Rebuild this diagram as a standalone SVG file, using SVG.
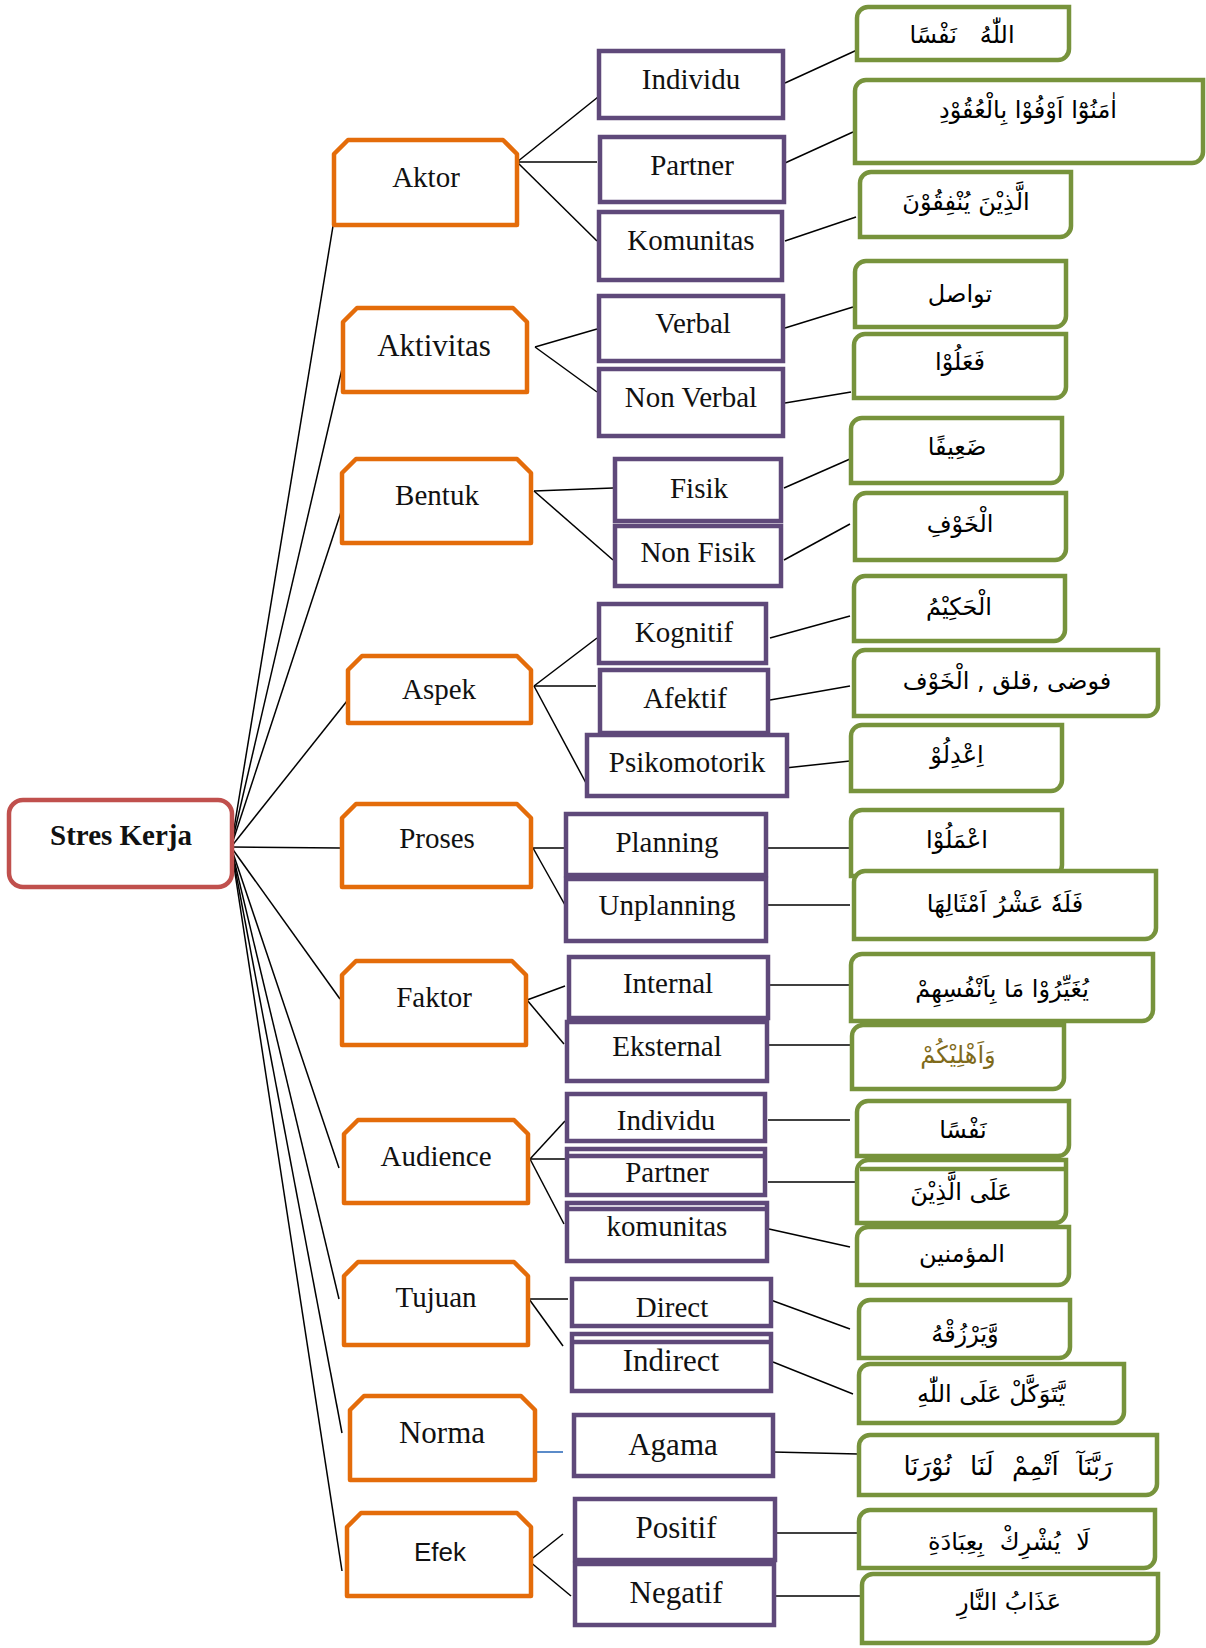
<svg xmlns="http://www.w3.org/2000/svg" width="1206" height="1648" viewBox="0 0 1206 1648">
  <style>
    .root { fill: #fff; stroke: #C0504D; stroke-width: 4.5; }
    .o { fill: #fff; stroke: #E46C0A; stroke-width: 4.5; stroke-linejoin: round; }
    .p { fill: #fff; stroke: #5F497A; stroke-width: 4.5; }
    .pl { stroke: #5F497A; stroke-width: 4.5; }
    .g { fill: #fff; stroke: #77933C; stroke-width: 4.5; }
    .gl { stroke: #77933C; stroke-width: 4.5; }
    .t { font-family: 'Liberation Serif', 'Times New Roman', serif; font-size: 29px; fill: #111; text-anchor: middle; }
    .tb { font-weight: bold; }
    .big { font-size: 31px; }
    .sans { font-family: 'Liberation Sans', Arial, sans-serif; font-size: 26px; }
    .ar { font-family: 'DejaVu Sans', sans-serif; font-size: 24px; fill: #000; text-anchor: middle; direction: rtl; }
    #connectors line { stroke: #000; stroke-width: 1.5; }
    #connectors line.blue { stroke: #5B8BC9; stroke-width: 2; }
  </style>

  <rect width="1206" height="1648" fill="#fff"/>

  <!-- links between the levels -->
  <g id="connectors">
    <!-- root to first level -->
    <line x1="231" y1="847" x2="333" y2="226"/>
    <line x1="231" y1="847" x2="342" y2="369"/>
    <line x1="231" y1="847" x2="342" y2="509"/>
    <line x1="231" y1="847" x2="347" y2="701"/>
    <line x1="231" y1="847" x2="340" y2="848"/>
    <line x1="231" y1="847" x2="340" y2="999"/>
    <line x1="231" y1="847" x2="339" y2="1168"/>
    <line x1="231" y1="847" x2="339" y2="1299"/>
    <line x1="231" y1="847" x2="342" y2="1433"/>
    <line x1="231" y1="847" x2="342" y2="1571"/>
    <!-- Aktor -->
    <line x1="517" y1="162" x2="598" y2="97"/>
    <line x1="517" y1="162" x2="597" y2="162"/>
    <line x1="517" y1="162" x2="597" y2="241"/>
    <line x1="785" y1="83" x2="857" y2="50"/>
    <line x1="785" y1="163" x2="853" y2="132"/>
    <line x1="785" y1="241" x2="856" y2="217"/>
    <!-- Aktivitas -->
    <line x1="535" y1="347" x2="597" y2="329"/>
    <line x1="535" y1="347" x2="597" y2="392"/>
    <line x1="785" y1="328" x2="853" y2="307"/>
    <line x1="785" y1="403" x2="851" y2="392"/>
    <!-- Bentuk -->
    <line x1="534" y1="491" x2="613" y2="488"/>
    <line x1="534" y1="491" x2="613" y2="560"/>
    <line x1="784" y1="488" x2="850" y2="459"/>
    <line x1="784" y1="560" x2="850" y2="524"/>
    <!-- Aspek -->
    <line x1="534" y1="686" x2="597" y2="638"/>
    <line x1="534" y1="686" x2="596" y2="686"/>
    <line x1="534" y1="686" x2="586" y2="783"/>
    <line x1="770" y1="638" x2="850" y2="616"/>
    <line x1="770" y1="700" x2="850" y2="686"/>
    <line x1="785" y1="768" x2="850" y2="761"/>
    <!-- Proses -->
    <line x1="533" y1="848" x2="566" y2="848"/>
    <line x1="533" y1="848" x2="565" y2="905"/>
    <line x1="768" y1="848" x2="850" y2="848"/>
    <line x1="768" y1="905" x2="850" y2="905"/>
    <!-- Faktor -->
    <line x1="527" y1="1000" x2="565" y2="986"/>
    <line x1="527" y1="1000" x2="564" y2="1044"/>
    <line x1="768" y1="985" x2="850" y2="985"/>
    <line x1="768" y1="1045" x2="853" y2="1045"/>
    <!-- Audience -->
    <line x1="530" y1="1159" x2="565" y2="1121"/>
    <line x1="530" y1="1159" x2="565" y2="1159"/>
    <line x1="530" y1="1159" x2="564" y2="1224"/>
    <line x1="768" y1="1120" x2="850" y2="1120"/>
    <line x1="768" y1="1182" x2="858" y2="1182"/>
    <line x1="769" y1="1229" x2="850" y2="1247"/>
    <!-- Tujuan -->
    <line x1="529" y1="1299" x2="568" y2="1299"/>
    <line x1="529" y1="1299" x2="563" y2="1346"/>
    <line x1="768" y1="1299" x2="850" y2="1329"/>
    <line x1="773" y1="1362" x2="853" y2="1394"/>
    <!-- Norma -->
    <line class="blue" x1="534" y1="1452" x2="563" y2="1452"/>
    <line x1="773" y1="1452" x2="858" y2="1454"/>
    <!-- Efek -->
    <line x1="529" y1="1561" x2="563" y2="1534"/>
    <line x1="529" y1="1561" x2="571" y2="1596"/>
    <line x1="776" y1="1533" x2="860" y2="1533"/>
    <line x1="776" y1="1596" x2="860" y2="1596"/>
  </g>

  <!-- root -->
  <g id="n-stres-kerja">
    <rect class="root" x="9" y="800" width="223" height="87" rx="14"/>
    <text class="t tb" x="121" y="845">Stres Kerja</text>
  </g>

  <!-- first level -->
  <g id="n-aktor"><path class="o" d="M334,225 V154 L348,140 H503 L517,154 V225 Z"/><text class="t" x="426" y="187">Aktor</text></g>
  <g id="n-aktivitas"><path class="o" d="M343,392 V322 L357,308 H513 L527,322 V392 Z"/><text class="t big" x="434" y="356">Aktivitas</text></g>
  <g id="n-bentuk"><path class="o" d="M342,543 V473 L356,459 H517 L531,473 V543 Z"/><text class="t" x="437" y="505">Bentuk</text></g>
  <g id="n-aspek"><path class="o" d="M348,723 V670 L362,656 H517 L531,670 V723 Z"/><text class="t" x="439" y="699">Aspek</text></g>
  <g id="n-proses"><path class="o" d="M342,887 V818 L356,804 H517 L531,818 V887 Z"/><text class="t" x="437" y="848">Proses</text></g>
  <g id="n-faktor"><path class="o" d="M342,1045 V975 L356,961 H512 L526,975 V1045 Z"/><text class="t" x="434" y="1007">Faktor</text></g>
  <g id="n-audience"><path class="o" d="M344,1203 V1134 L358,1120 H514 L528,1134 V1203 Z"/><text class="t" x="436" y="1166">Audience</text></g>
  <g id="n-tujuan"><path class="o" d="M344,1345 V1276 L358,1262 H514 L528,1276 V1345 Z"/><text class="t" x="436" y="1307">Tujuan</text></g>
  <g id="n-norma"><path class="o" d="M350,1480 V1410 L364,1396 H521 L535,1410 V1480 Z"/><text class="t big" x="442" y="1443">Norma</text></g>
  <g id="n-efek"><path class="o" d="M347,1596 V1527 L361,1513 H517 L531,1527 V1596 Z"/><text class="t sans" x="440" y="1561">Efek</text></g>

  <!-- second level -->
  <g id="n-individu-1"><rect class="p" x="599" y="51" width="184" height="67"/><text class="t" x="691" y="89">Individu</text></g>
  <g id="n-partner-1"><rect class="p" x="600" y="137" width="184" height="65"/><text class="t" x="692" y="175">Partner</text></g>
  <g id="n-komunitas-1"><rect class="p" x="599" y="212" width="183" height="68"/><text class="t" x="691" y="250">Komunitas</text></g>
  <g id="n-verbal"><rect class="p" x="599" y="296" width="184" height="65"/><text class="t" x="693" y="333">Verbal</text></g>
  <g id="n-non-verbal"><rect class="p" x="599" y="369" width="184" height="67"/><text class="t" x="691" y="407">Non Verbal</text></g>
  <g id="n-fisik"><rect class="p" x="615" y="459" width="166" height="62"/><text class="t" x="699" y="498">Fisik</text></g>
  <g id="n-non-fisik"><rect class="p" x="615" y="526" width="166" height="60"/><text class="t" x="698" y="562">Non Fisik</text></g>
  <g id="n-kognitif"><rect class="p" x="599" y="604" width="167" height="59"/><text class="t" x="684" y="642">Kognitif</text></g>
  <g id="n-afektif"><rect class="p" x="600" y="670" width="168" height="63"/><text class="t" x="685" y="708">Afektif</text></g>
  <g id="n-psikomotorik"><rect class="p" x="587" y="735" width="200" height="61"/><text class="t" x="687" y="772">Psikomotorik</text></g>
  <g id="n-planning"><rect class="p" x="566" y="814" width="200" height="61"/><text class="t" x="667" y="852">Planning</text></g>
  <g id="n-unplanning"><rect class="p" x="566" y="879" width="200" height="62"/><text class="t" x="667" y="915">Unplanning</text></g>
  <g id="n-internal"><rect class="p" x="569" y="957" width="199" height="61"/><text class="t" x="668" y="993">Internal</text></g>
  <g id="n-eksternal"><rect class="p" x="567" y="1022" width="200" height="59"/><text class="t" x="667" y="1056">Eksternal</text></g>
  <g id="n-individu-2"><rect class="p" x="567" y="1094" width="198" height="47"/><text class="t" x="666" y="1130">Individu</text></g>
  <g id="n-partner-2"><rect class="p" x="567" y="1149" width="198" height="46"/><line class="pl" x1="567" y1="1156" x2="765" y2="1156"/><text class="t" x="667" y="1182">Partner</text></g>
  <g id="n-komunitas-2"><rect class="p" x="567" y="1203" width="200" height="58"/><line class="pl" x1="567" y1="1209" x2="767" y2="1209"/><text class="t" x="667" y="1236">komunitas</text></g>
  <g id="n-direct"><rect class="p" x="572" y="1279" width="199" height="47"/><text class="t" x="672" y="1317">Direct</text></g>
  <g id="n-indirect"><rect class="p" x="572" y="1334" width="199" height="57"/><line class="pl" x1="572" y1="1342" x2="771" y2="1342"/><text class="t big" x="671" y="1371">Indirect</text></g>
  <g id="n-agama"><rect class="p" x="574" y="1415" width="199" height="61"/><text class="t big" x="673" y="1455">Agama</text></g>
  <g id="n-positif"><rect class="p" x="575" y="1499" width="200" height="61"/><text class="t big" x="676" y="1538">Positif</text></g>
  <g id="n-negatif"><rect class="p" x="575" y="1564" width="199" height="61"/><text class="t big" x="676" y="1603">Negatif</text></g>

  <!-- third level: Arabic terms -->
  <g id="n-ar-1"><path class="g" d="M868,7 H1069 V49 A11,11 0 0 1 1058,60 H857 V18 A11,11 0 0 1 868,7 Z"/><text class="ar" x="962" y="43" xml:space="preserve">اللّٰهُ   نَفْسًا</text></g>
  <g id="n-ar-2"><path class="g" d="M866,80 H1203 V152 A11,11 0 0 1 1192,163 H855 V91 A11,11 0 0 1 866,80 Z"/><text class="ar" x="1028" y="118">اٰمَنُوْٓا اَوْفُوْا بِالْعُقُوْدِ</text></g>
  <g id="n-ar-3"><path class="g" d="M871,172 H1071 V226 A11,11 0 0 1 1060,237 H860 V183 A11,11 0 0 1 871,172 Z"/><text class="ar" x="966" y="210">الَّذِيْنَ يُنْفِقُوْنَ</text></g>
  <g id="n-ar-4"><path class="g" d="M866,261 H1066 V316 A11,11 0 0 1 1055,327 H855 V272 A11,11 0 0 1 866,261 Z"/><text class="ar" x="960" y="302">تواصل</text></g>
  <g id="n-ar-5"><path class="g" d="M865,334 H1066 V387 A11,11 0 0 1 1055,398 H854 V345 A11,11 0 0 1 865,334 Z"/><text class="ar" x="960" y="370">فَعَلُوْا</text></g>
  <g id="n-ar-6"><path class="g" d="M862,418 H1062 V472 A11,11 0 0 1 1051,483 H851 V429 A11,11 0 0 1 862,418 Z"/><text class="ar" x="957" y="455">ضَعِيفًا</text></g>
  <g id="n-ar-7"><path class="g" d="M866,493 H1066 V549 A11,11 0 0 1 1055,560 H855 V504 A11,11 0 0 1 866,493 Z"/><text class="ar" x="960" y="532">الْخَوْفِ</text></g>
  <g id="n-ar-8"><path class="g" d="M865,576 H1065 V630 A11,11 0 0 1 1054,641 H854 V587 A11,11 0 0 1 865,576 Z"/><text class="ar" x="959" y="615">الْحَكِيْمُ</text></g>
  <g id="n-ar-9"><path class="g" d="M865,650 H1158 V705 A11,11 0 0 1 1147,716 H854 V661 A11,11 0 0 1 865,650 Z"/><text class="ar" x="1007" y="689">فوضى ,قلق , الْخَوْف</text></g>
  <g id="n-ar-10"><path class="g" d="M862,725 H1062 V780 A11,11 0 0 1 1051,791 H851 V736 A11,11 0 0 1 862,725 Z"/><text class="ar" x="957" y="763">اِعْدِلُوْ</text></g>
  <g id="n-ar-11"><path class="g" d="M862,810 H1062 V865 A11,11 0 0 1 1051,876 H851 V821 A11,11 0 0 1 862,810 Z"/><text class="ar" x="957" y="848">اعْمَلُوْا</text></g>
  <g id="n-ar-12"><path class="g" d="M865,871 H1156 V928 A11,11 0 0 1 1145,939 H854 V882 A11,11 0 0 1 865,871 Z"/><text class="ar" x="1005" y="912">فَلَهٗ عَشْرُ اَمْثَالِهَا</text></g>
  <g id="n-ar-13"><path class="g" d="M862,954 H1153 V1010 A11,11 0 0 1 1142,1021 H851 V965 A11,11 0 0 1 862,954 Z"/><text class="ar" x="1002" y="997">يُغَيِّرُوْا مَا بِاَنْفُسِهِمْ</text></g>
  <g id="n-ar-14"><path class="g" d="M863,1025 H1064 V1078 A11,11 0 0 1 1053,1089 H852 V1036 A11,11 0 0 1 863,1025 Z"/><text class="ar" x="958" y="1063" style="fill:#7F6A1A">وَاَهْلِيْكُمْ</text></g>
  <g id="n-ar-15"><path class="g" d="M868,1101 H1069 V1145 A11,11 0 0 1 1058,1156 H857 V1112 A11,11 0 0 1 868,1101 Z"/><text class="ar" x="963" y="1138">نَفْسًا</text></g>
  <g id="n-ar-16"><path class="g" d="M868,1160 H1066 V1212 A11,11 0 0 1 1055,1223 H857 V1171 A11,11 0 0 1 868,1160 Z"/><line class="gl" x1="860" y1="1169" x2="1066" y2="1169"/><text class="ar" x="961" y="1200">عَلَى الَّذِيْنَ</text></g>
  <g id="n-ar-17"><path class="g" d="M868,1227 H1069 V1274 A11,11 0 0 1 1058,1285 H857 V1238 A11,11 0 0 1 868,1227 Z"/><text class="ar" x="962" y="1262">المؤمنين</text></g>
  <g id="n-ar-18"><path class="g" d="M870,1300 H1070 V1347 A11,11 0 0 1 1059,1358 H859 V1311 A11,11 0 0 1 870,1300 Z"/><text class="ar" x="965" y="1342">وَّيَرْزُقْهُ</text></g>
  <g id="n-ar-19"><path class="g" d="M870,1364 H1124 V1412 A11,11 0 0 1 1113,1423 H859 V1375 A11,11 0 0 1 870,1364 Z"/><text class="ar" x="991" y="1402">يَّتَوَكَّلْ عَلَى اللّٰهِ</text></g>
  <g id="n-ar-20"><path class="g" d="M870,1435 H1157 V1484 A11,11 0 0 1 1146,1495 H859 V1446 A11,11 0 0 1 870,1435 Z"/><text class="ar" x="1008" y="1475" style="font-size:26px; word-spacing:10px">رَبَّنَآ اَتْمِمْ لَنَا نُوْرَنَا</text></g>
  <g id="n-ar-21"><path class="g" d="M870,1510 H1155 V1557 A11,11 0 0 1 1144,1568 H859 V1521 A11,11 0 0 1 870,1510 Z"/><text class="ar" x="1009" y="1550" style="word-spacing:8px">لَا يُشْرِكْ بِعِبَادَةِ</text></g>
  <g id="n-ar-22"><path class="g" d="M873,1574 H1158 V1632 A11,11 0 0 1 1147,1643 H862 V1585 A11,11 0 0 1 873,1574 Z"/><text class="ar" x="1009" y="1610">عَذَابُ النَّارِ</text></g>
</svg>
